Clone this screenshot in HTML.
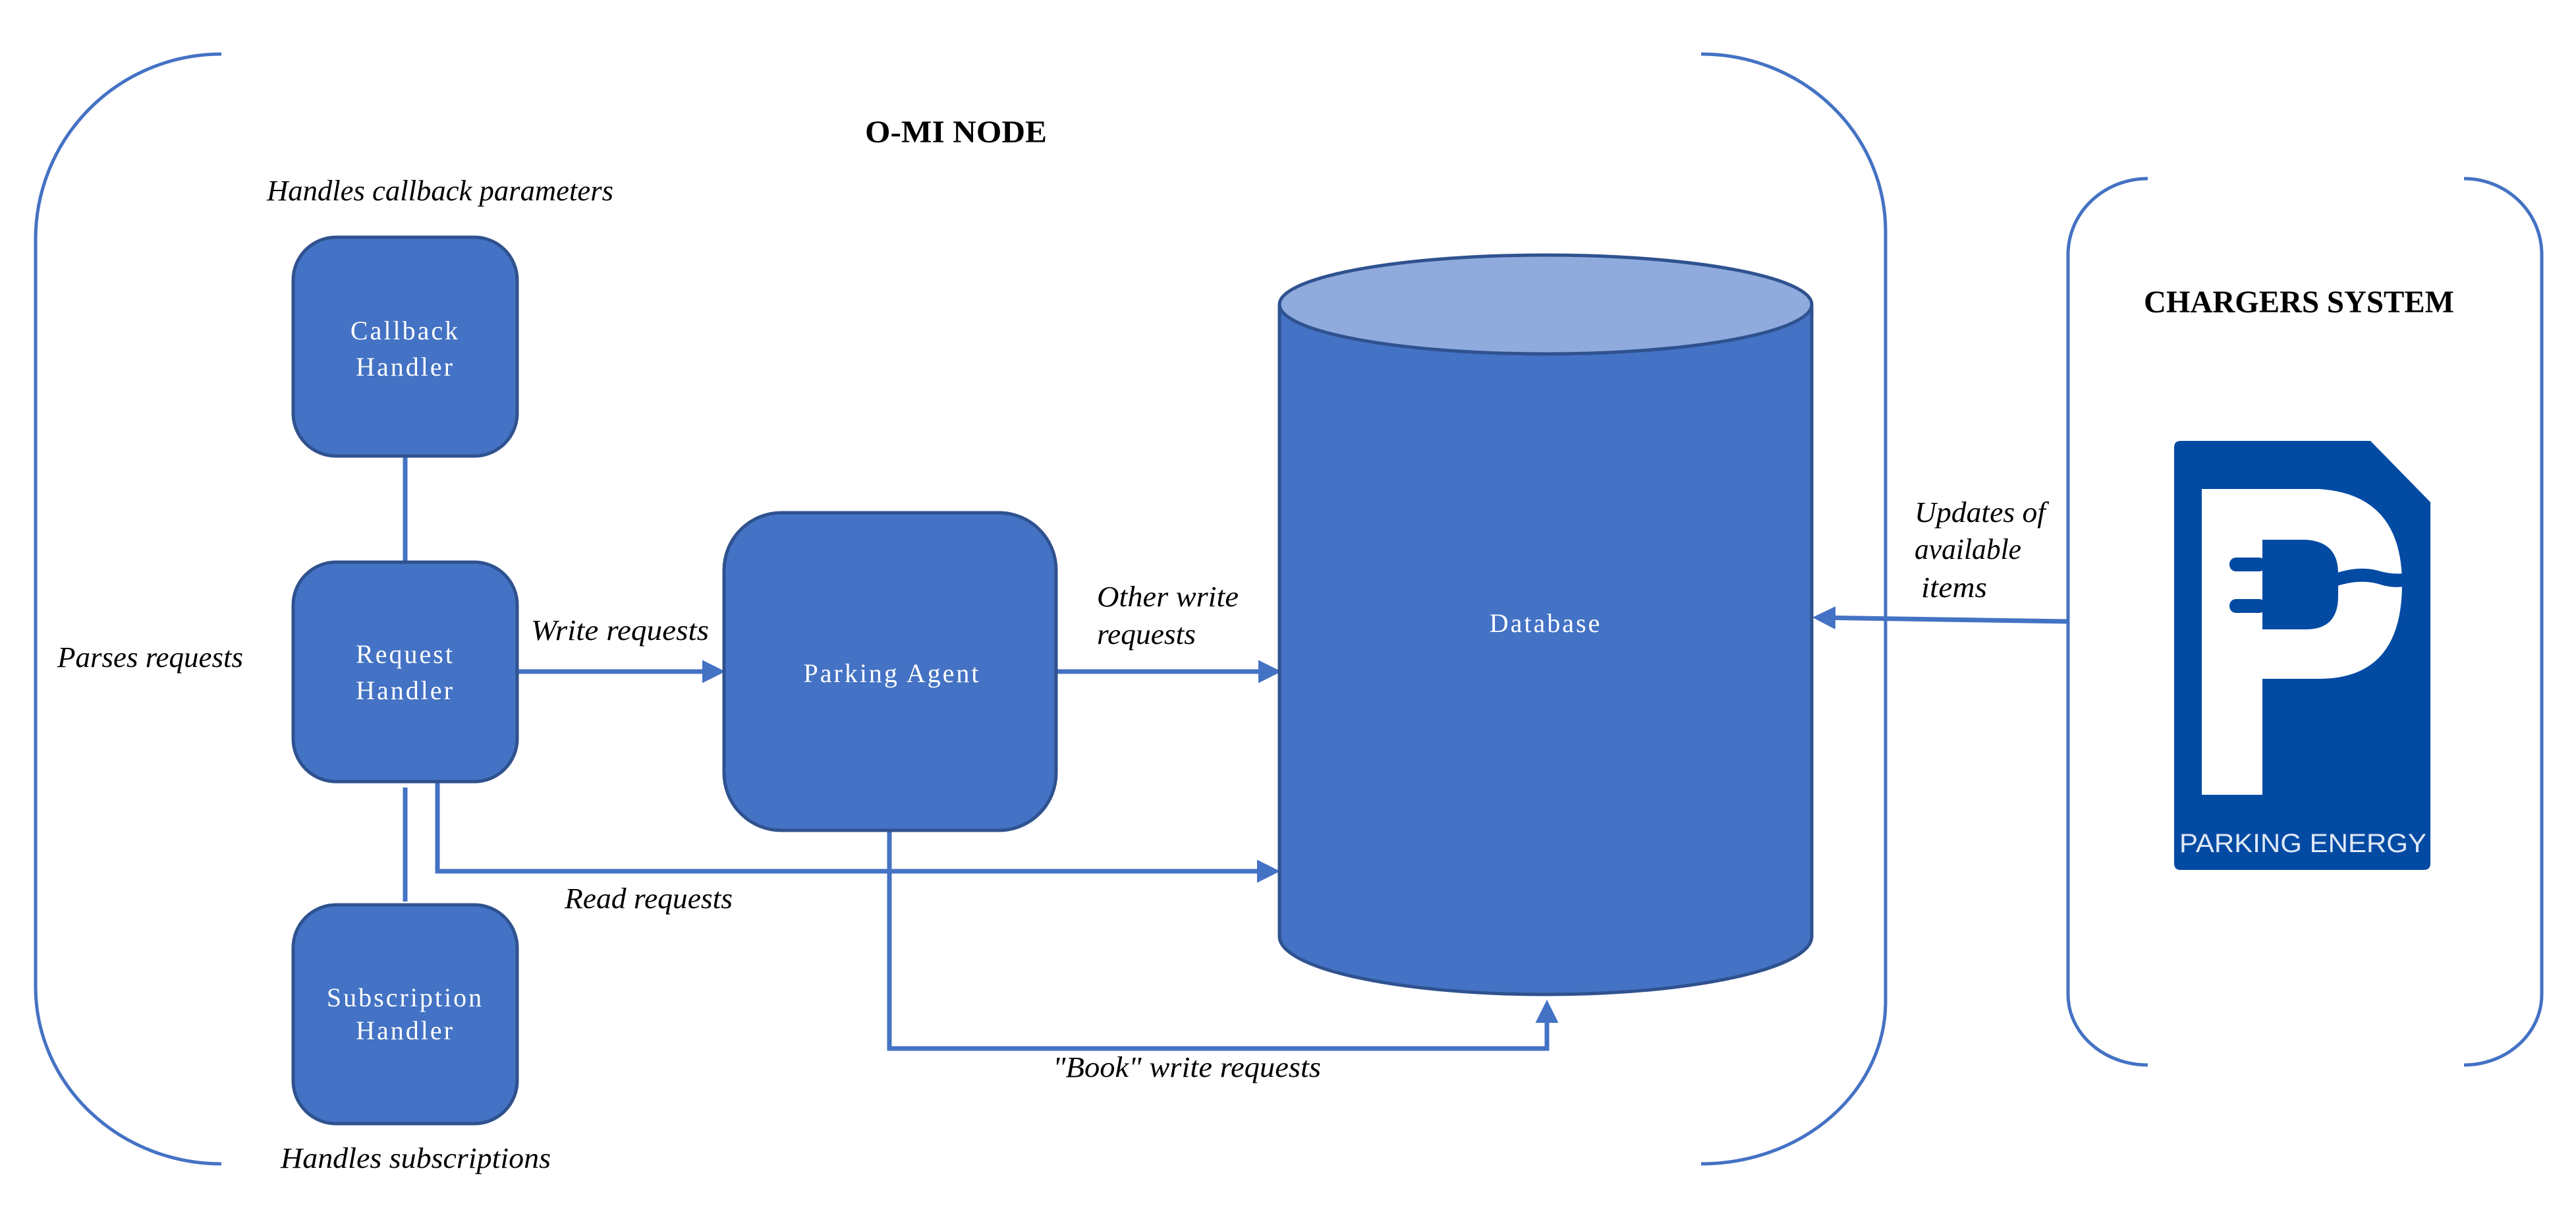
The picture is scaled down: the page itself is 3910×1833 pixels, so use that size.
<!DOCTYPE html>
<html><head><meta charset="utf-8"><style>html,body{margin:0;padding:0;background:#fff}svg{display:block}</style></head>
<body>
<svg width="3910" height="1833" viewBox="0 0 3910 1833" xmlns="http://www.w3.org/2000/svg">
<defs>
<marker id="ah" markerWidth="5" markerHeight="5" refX="4" refY="2.5" orient="auto" markerUnits="strokeWidth">
<path d="M0,0 L5,2.5 L0,5 z" fill="#4472c4"/></marker>
</defs>
<g fill="none" stroke="#4472c4" stroke-width="5">
<path d="M336,82 A282,281 0 0 0 54,363 L54,1497 A282,269 0 0 0 336,1766"/>
<path d="M2582,82 A280,269 0 0 1 2862,351 L2862,1520 A280,246 0 0 1 2582,1766"/>
<path d="M3260,271 A121,115 0 0 0 3139,386 L3139,1509 A121,107 0 0 0 3260,1616"/>
<path d="M3740,271 A118,115 0 0 1 3858,386 L3858,1509 A118,107 0 0 1 3740,1616"/>
</g>
<g fill="none" stroke="#4472c4" stroke-width="7">
<line x1="615" y1="692" x2="615" y2="853"/>
<line x1="615" y1="1195" x2="615" y2="1368"/>
<line x1="785" y1="1019" x2="1094" y2="1019" marker-end="url(#ah)"/>
<line x1="1603" y1="1019" x2="1938" y2="1019" marker-end="url(#ah)"/>
<polyline points="664,1186 664,1322 1936,1322" marker-end="url(#ah)"/>
<polyline points="1350,1260 1350,1591 2348,1591 2348,1524" marker-end="url(#ah)"/>
<line x1="3139" y1="943" x2="2758" y2="937" marker-end="url(#ah)"/>
</g>
<g fill="#4472c4" stroke="#2f528f" stroke-width="5">
<rect x="445" y="360" width="340" height="332" rx="65"/>
<rect x="445" y="853" width="340" height="333" rx="65"/>
<rect x="445" y="1373" width="340" height="332" rx="65"/>
<rect x="1099" y="778" width="504" height="482" rx="87"/>
<path d="M1942,462 L1942,1421 A404,88 0 0 0 2750,1421 L2750,462"/>
<ellipse cx="2346" cy="462" rx="404" ry="75" fill="#8faadc"/>
</g>
<g fill="#fff" font-family="Liberation Serif, serif" font-size="40" text-anchor="middle" letter-spacing="3">
<text x="615" y="515">Callback</text>
<text x="615" y="570">Handler</text>
<text x="615" y="1006">Request</text>
<text x="615" y="1061">Handler</text>
<text x="615" y="1527">Subscription</text>
<text x="615" y="1577">Handler</text>
<text x="1354" y="1035">Parking Agent</text>
<text x="2346" y="959">Database</text>
</g>
<g font-family="Liberation Serif, serif" font-weight="bold" font-size="48" fill="#000">
<text x="1313" y="216" textLength="276" lengthAdjust="spacingAndGlyphs">O-MI NODE</text>
<text x="3254" y="474" textLength="471" lengthAdjust="spacingAndGlyphs">CHARGERS SYSTEM</text>
</g>
<g font-family="Liberation Serif, serif" font-style="italic" font-size="44" fill="#000">
<text x="405" y="304" textLength="526" lengthAdjust="spacingAndGlyphs">Handles callback parameters</text>
<text x="87" y="1012" textLength="282" lengthAdjust="spacingAndGlyphs">Parses requests</text>
<text x="806" y="971" textLength="270" lengthAdjust="spacingAndGlyphs">Write requests</text>
<text x="857" y="1378" textLength="255" lengthAdjust="spacingAndGlyphs">Read requests</text>
<text x="426" y="1772" textLength="410" lengthAdjust="spacingAndGlyphs">Handles subscriptions</text>
<text x="1665" y="920" textLength="215" lengthAdjust="spacingAndGlyphs">Other write</text>
<text x="1665" y="977" textLength="150" lengthAdjust="spacingAndGlyphs">requests</text>
<text x="1598" y="1634" textLength="407" lengthAdjust="spacingAndGlyphs">"Book" write requests</text>
<text x="2906" y="792" textLength="199" lengthAdjust="spacingAndGlyphs">Updates of</text>
<text x="2906" y="848" textLength="162" lengthAdjust="spacingAndGlyphs">available</text>
<text x="2916" y="906" textLength="100" lengthAdjust="spacingAndGlyphs">items</text>
</g>
<g>
<path d="M3310,669 L3598,669 L3689,762 L3689,1310 Q3689,1320 3679,1320 L3310,1320 Q3300,1320 3300,1310 L3300,679 Q3300,669 3310,669 Z" fill="#034aa3"/>
<path d="M3342,742 L3520,742 Q3646,750 3646,886 Q3646,1030 3520,1030 L3434,1030 L3434,1206 L3342,1206 Z" fill="#fff"/>
<path d="M3434,819 L3500,819 Q3549,822 3549,870 L3549,905 Q3549,955 3500,955 L3434,955 Z" fill="#034aa3"/>
<rect x="3384" y="846" width="55" height="21" rx="10" fill="#034aa3"/>
<rect x="3384" y="909" width="55" height="21" rx="10" fill="#034aa3"/>
<path d="M3545,870 Q3580,858 3610,866 Q3630,872 3650,870 L3650,890 Q3630,893 3610,886 Q3580,878 3545,890 Z" fill="#034aa3"/>
<text x="3308" y="1293" font-family="Liberation Sans, sans-serif" font-size="40" fill="#dfe8f5" textLength="375" lengthAdjust="spacingAndGlyphs">PARKING ENERGY</text>
</g>
</svg>
</body></html>
